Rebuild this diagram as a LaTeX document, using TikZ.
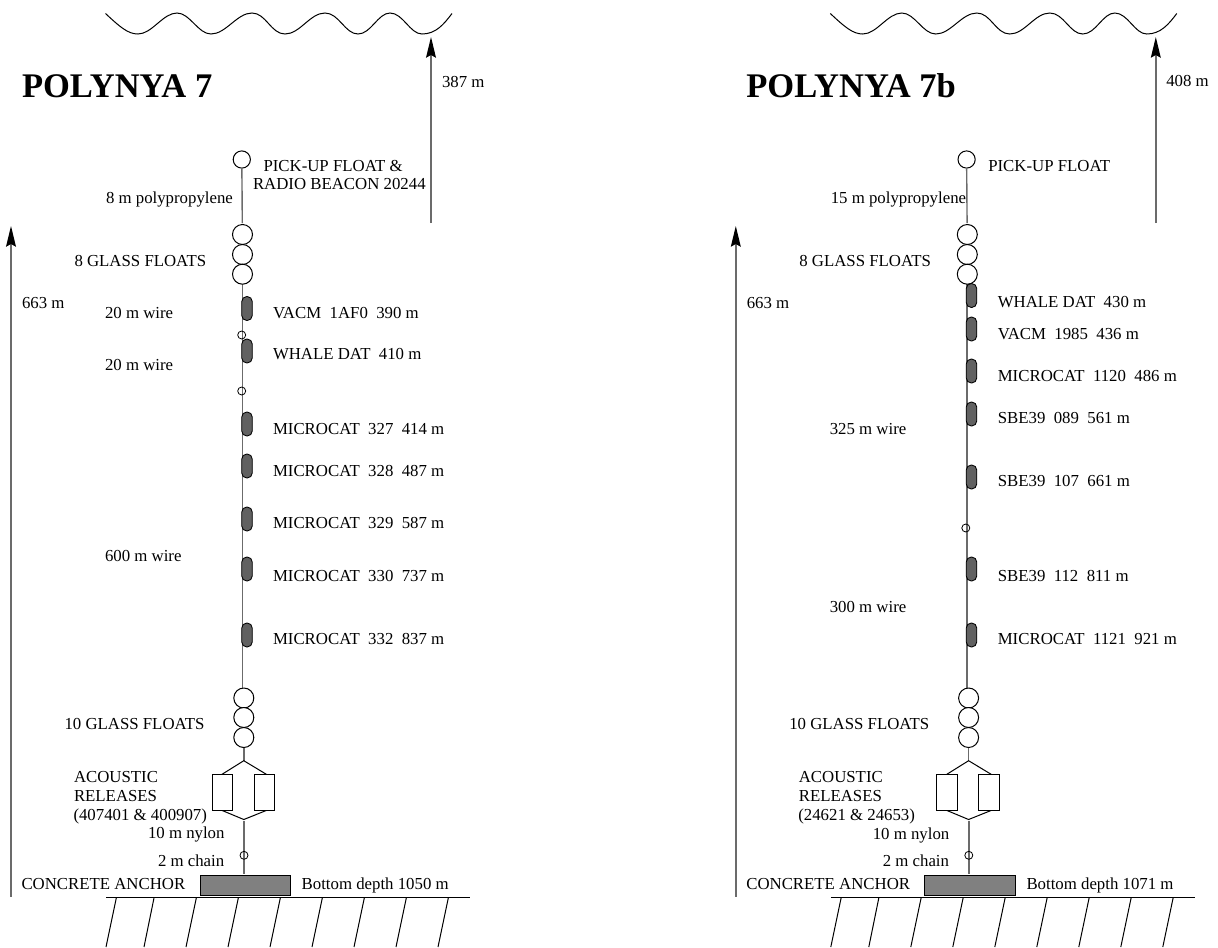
\documentclass[tikz,border=0pt]{standalone}
\usepackage{fontspec}
\setmainfont{Liberation Serif}
\usetikzlibrary{arrows.meta}
\tikzset{
  lbl/.style={anchor=base west,inner sep=0pt,outer sep=0pt,font=\fontsize{12.6pt}{14pt}\selectfont,align=left},
  ttl/.style={anchor=base west,inner sep=0pt,outer sep=0pt,font=\fontsize{25.9pt}{28pt}\selectfont\bfseries},
  ln/.style={line width=.75pt,black},
  wire/.style={line width=1.05pt,black!58},
  fl/.style={circle,draw=black,line width=.75pt,fill=white,inner sep=0pt,outer sep=0pt,minimum size=15pt},
  pk/.style={circle,draw=black,line width=.75pt,fill=white,inner sep=0pt,outer sep=0pt,minimum size=12.9pt},
  sm/.style={circle,draw=black,line width=.6pt,inner sep=0pt,outer sep=0pt,minimum size=6pt},
  inst/.style={rectangle,rounded corners=3.8pt,draw=black,line width=.65pt,fill=black!62,inner sep=0pt,outer sep=0pt,minimum width=7.9pt,minimum height=18pt},
  rel/.style={rectangle,draw=black,line width=.75pt,fill=white,inner sep=0pt,outer sep=0pt,minimum width=15.5pt,minimum height=27pt},
  anc/.style={rectangle,draw=black,line width=.8pt,fill=black!50,inner sep=0pt,outer sep=0pt,minimum width=68pt,minimum height=15.3pt},
  meas/.style={line width=1.05pt,black!58,-{Stealth[length=15.5pt,width=7.4pt,inset=2pt,black]}},
}
\newcommand{\panelcommon}{%
  % surface
  \coordinate (w0) at (105.5,13.5);
  \coordinate (w1) at (138,34);
  \coordinate (w2) at (177,13);
  \coordinate (w3) at (211,34);
  \coordinate (w4) at (252,13);
  \coordinate (w5) at (285,34);
  \coordinate (w6) at (325,13);
  \coordinate (w7) at (358,34);
  \coordinate (w8) at (390,13);
  \coordinate (w9) at (422,34);
  \coordinate (w10) at (452,13.5);
  \draw[ln] (w0) .. controls (120,27) and (128,34) .. (w1)
    .. controls (152,34) and (163,13) .. (w2)
    .. controls (190,13) and (198,34) .. (w3)
    .. controls (226,34) and (237,13) .. (w4)
    .. controls (266,13) and (271,34) .. (w5)
    .. controls (300,34) and (310,13) .. (w6)
    .. controls (339,13) and (345,34) .. (w7)
    .. controls (371,34) and (378,13) .. (w8)
    .. controls (403,13) and (410,34) .. (w9)
    .. controls (436,34) and (444,24) .. (w10);
  % depth arrows
  \coordinate (ua0) at (431,223);
  \coordinate (ua1) at (431,37);
  \draw[meas] (ua0) -- (ua1);
  \coordinate (la0) at (11,896.5);
  \coordinate (la1) at (11,226);
  \draw[meas] (la0) -- (la1);
  % floats and wire
  \coordinate (top) at (242.3,223);
  \coordinate (wb) at (242.3,687.5);
  \coordinate (wt) at (242.3,284);
  \node[pk] (pick) at (241.8,159.5) {};
  \draw[wire] (pick) -- (top);
  \draw[wire] (wt) -- (wb);
  \node[fl] (g1) at (242.5,234.5) {};
  \node[fl] (g2) at (242.5,254.5) {};
  \node[fl] (g3) at (242.5,274.2) {};
  \node[fl] (g4) at (243.8,698) {};
  \node[fl] (g5) at (243.8,717.5) {};
  \node[fl] (g6) at (243.8,737.5) {};
  % releases
  \coordinate (ra) at (243.8,760.7);
  \coordinate (rb) at (243.8,819.5);
  \coordinate (ch) at (244,873.5);
  \coordinate (cb) at (244,820.7);
  \coordinate (ral) at (221.7,774.5);
  \coordinate (rar) at (266.7,774.5);
  \coordinate (rbl) at (221.7,810.3);
  \coordinate (rbr) at (266.7,810.3);
  \draw[wire] (g6) -- (ra);
  \draw[ln] (ral) -- (ra) -- (rar);
  \draw[ln] (rbl) -- (rb) -- (rbr);
  \node[rel] (r1) at (222.5,792.3) {};
  \node[rel] (r2) at (264.4,792.3) {};
  \draw[wire] (cb) -- (ch);
  \node[sm] (chn) at (244,855.3) {};
  % anchor and ground
  \node[anc] (anchor) at (245.4,885.5) {};
  \coordinate (gl) at (106,897.8);
  \coordinate (gr) at (470,897.8);
  \draw[ln] (gl) -- (gr);
  \foreach \i/\a/\b in {1/116.3/106,2/154/144,3/196.3/186,4/238.3/228,5/280.3/270,6/322.3/312,7/364.3/354,8/406.3/396,9/448.3/438}{
    \coordinate (ht\i) at (\a,898);
    \coordinate (hb\i) at (\b,947);
    \draw[ln] (ht\i) -- (hb\i);
  }
  % common labels
  \node[lbl] (tcg) at (74.5,266) {8 GLASS FLOATS};
  \node[lbl] (tdl) at (22,308.5) {663 m};
  \node[lbl] (tbg) at (64.5,729) {10 GLASS FLOATS};
  \node[lbl] (tac) at (74,782) {ACOUSTIC};
  \node[lbl] (tre) at (74,801) {RELEASES};
  \node[lbl] (tcm) at (158,866) {2 m chain};
  \node[lbl] (tca) at (21.5,889) {CONCRETE ANCHOR};
}
\begin{document}
\begin{tikzpicture}[x=.75pt,y=-.75pt]
\useasboundingbox (0,0) rectangle (1218,947);
\begin{scope}[name prefix=L-]
  \panelcommon
  \node[ttl] (title) at (22,97) {POLYNYA 7};
  \node[lbl] (dep) at (442,87) {387 m};
  \node[lbl] (pk1) at (263.5,171) {PICK-UP FLOAT \&};
  \node[lbl] (pk2) at (253,189) {RADIO BEACON 20244};
  \node[lbl] (pp) at (106,203) {8 m polypropylene};
  \node[lbl] (w20a) at (105,318) {20 m wire};
  \node[lbl] (w20b) at (105,370) {20 m wire};
  \node[lbl] (w600) at (105,561) {600 m wire};
  \node[sm] (s1) at (241.7,335) {};
  \node[sm] (s2) at (241.7,391) {};
  \foreach \n/\y in {a/308.5,b/351,c/424,d/466,e/519,f/569,g/635}
    \node[inst] (i\n) at (247,\y) {};
  \node[lbl] (ta) at (273,318) {VACM\ \ 1AF0\ \ 390 m};
  \node[lbl] (tb) at (273,359) {WHALE DAT\ \ 410 m};
  \node[lbl] (tc) at (273,434) {MICROCAT\ \ 327\ \ 414 m};
  \node[lbl] (td) at (273,476) {MICROCAT\ \ 328\ \ 487 m};
  \node[lbl] (te) at (273,528) {MICROCAT\ \ 329\ \ 587 m};
  \node[lbl] (tf) at (273,581) {MICROCAT\ \ 330\ \ 737 m};
  \node[lbl] (tg) at (273,644) {MICROCAT\ \ 332\ \ 837 m};
  \node[lbl] (tp) at (73.5,820) {(407401 \& 400907)};
  \node[lbl] (tny) at (148,838) {10 m nylon};
  \node[lbl] (tbd) at (301.7,889) {Bottom depth 1050 m};
\end{scope}
\begin{scope}[xshift=543.6pt,name prefix=R-]
  \panelcommon
  \node[ttl] (title) at (21.5,97) {POLYNYA 7b};
  \node[lbl] (dep) at (441.5,86.5) {408 m};
  \node[lbl] (pk1) at (263.5,171) {PICK-UP FLOAT};
  \node[lbl] (pp) at (106,203) {15 m polypropylene};
  \node[lbl] (w325) at (105,434) {325 m wire};
  \node[lbl] (w300) at (105,612) {300 m wire};
  \node[sm] (s1) at (241,528) {};
  \foreach \n/\y in {a/295.5,b/329,c/371,d/414,e/477,f/569,g/635}
    \node[inst] (i\n) at (246.7,\y) {};
  \node[lbl] (ta) at (273,307) {WHALE DAT\ \ 430 m};
  \node[lbl] (tb) at (273,339) {VACM\ \ 1985\ \ 436 m};
  \node[lbl] (tc) at (273,381) {MICROCAT\ \ 1120\ \ 486 m};
  \node[lbl] (td) at (273,423) {SBE39\ \ 089\ \ 561 m};
  \node[lbl] (te) at (273,486) {SBE39\ \ 107\ \ 661 m};
  \node[lbl] (tf) at (273,581) {SBE39\ \ 112\ \ 811 m};
  \node[lbl] (tg) at (273,644) {MICROCAT\ \ 1121\ \ 921 m};
  \node[lbl] (tp) at (73.5,820) {(24621 \& 24653)};
  \node[lbl] (tny) at (148,839) {10 m nylon};
  \node[lbl] (tbd) at (301.7,889) {Bottom depth 1071 m};
\end{scope}
\end{tikzpicture}
\end{document}
